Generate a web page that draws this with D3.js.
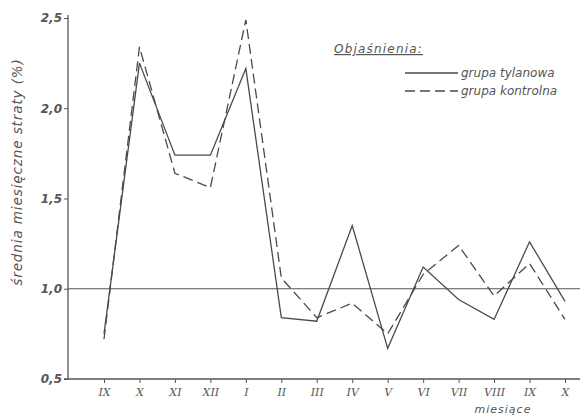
<!DOCTYPE html>
<html>
<head>
<meta charset="utf-8">
<script src="https://cdn.jsdelivr.net/npm/d3@7"></script>
<style>
  body { margin: 0; background: #fff; }
  svg text { font-family: "DejaVu Sans", sans-serif; font-style: italic; fill: #555; }
</style>
</head>
<body>
<svg id="chart" width="580" height="419"></svg>
<script>
// months (Roman numerals, as on the original sheet)
const months = ["IX", "X", "XI", "XII", "I", "II", "III", "IV", "V", "VI", "VII", "VIII", "IX ", "X "];
const monthLabels = ["IX", "X", "XI", "XII", "I", "II", "III", "IV", "V", "VI", "VII", "VIII", "IX", "X"];

// average monthly losses (%)
const tylanowa = [0.75, 2.25, 1.74, 1.74, 2.22, 0.84, 0.82, 1.35, 0.67, 1.12, 0.94, 0.83, 1.26, 0.93];
const kontrolna = [0.72, 2.34, 1.64, 1.56, 2.49, 1.06, 0.84, 0.92, 0.75, 1.08, 1.24, 0.96, 1.14, 0.83];

const yTicks = [0.5, 1.0, 1.5, 2.0, 2.5];

const svg = d3.select("#chart");

const x = d3.scalePoint()
    .domain(months)
    .range([104, 565]);

const y = d3.scaleLinear()
    .domain([0.5, 2.5])
    .range([379, 18]);

const ink = "#555";

//y axis
const yAxis = svg.append("g")
    .attr("transform", "translate(68,0)")
    .call(d3.axisLeft(y).tickValues(yTicks).tickSize(4).tickFormat((d) => d3.format(".1f")(d).replace(".", ",")));
yAxis.select(".domain").attr("stroke", ink).attr("stroke-width", 1.3).attr("d", "M0,15V379");
yAxis.selectAll(".tick line").attr("stroke", ink);
yAxis.selectAll(".tick text")
    .attr("x", -6)
    .style("font-size", "12px")
    .style("font-weight", "bold")
    .style("font-family", "DejaVu Sans")
    .style("font-style", "italic")
    .attr("fill", "#666");

//x axis
const xAxis = svg.append("g")
    .attr("transform", "translate(0,379)")
    .call(d3.axisBottom(x).tickSize(4).tickFormat((d, i) => monthLabels[i]));
xAxis.select(".domain").attr("stroke", ink).attr("stroke-width", 1.3).attr("d", "M64,0H580");
xAxis.selectAll(".tick line").attr("stroke", ink);
xAxis.selectAll(".tick text")
    .attr("y", 9)
    .style("font-size", "11px")
    .style("font-family", "DejaVu Serif")
    .style("font-style", "italic")
    .attr("fill", "#666");

//reference line at 1.0
svg.append("line")
    .attr("x1", 68).attr("x2", 580)
    .attr("y1", y(1.0)).attr("y2", y(1.0))
    .attr("stroke", ink)
    .attr("stroke-width", 1.2);

const line = d3.line()
    .x((d, i) => x(months[i]))
    .y((d) => y(d));

svg.append("path")
    .datum(tylanowa)
    .attr("d", line)
    .attr("fill", "none")
    .attr("stroke", "#4a4a4a")
    .attr("stroke-width", 1.3);

svg.append("path")
    .datum(kontrolna)
    .attr("d", line)
    .attr("fill", "none")
    .attr("stroke", "#4a4a4a")
    .attr("stroke-width", 1.3)
    .attr("stroke-dasharray", "10,5");

//axis titles
svg.append("text")
    .attr("transform", "translate(22,172) rotate(-90)")
    .attr("text-anchor", "middle")
    .style("font-size", "13.5px")
    .style("letter-spacing", "0.9px")
    .text("średnia miesięczne straty (%)");

svg.append("text")
    .attr("x", 503)
    .attr("y", 413)
    .attr("text-anchor", "middle")
    .style("font-size", "11px")
    .style("letter-spacing", "1px")
    .attr("fill", "#888")
    .text("miesiące");

//legend
svg.append("text")
    .attr("x", 334)
    .attr("y", 53)
    .style("font-size", "12px")
    .style("letter-spacing", "1.2px")
    .style("text-decoration", "underline")
    .text("Objaśnienia:");

const legendItems = [
    { name: "grupa tylanowa", dash: null, y: 73 },
    { name: "grupa kontrolna", dash: "10,5", y: 91 }
];

const legend = svg.selectAll(".legend-item")
    .data(legendItems)
    .enter()
    .append("g")
    .attr("class", "legend-item");

legend.append("line")
    .attr("x1", 405).attr("x2", 458)
    .attr("y1", (d) => d.y).attr("y2", (d) => d.y)
    .attr("stroke", "#4a4a4a")
    .attr("stroke-width", 1.3)
    .attr("stroke-dasharray", (d) => d.dash);

legend.append("text")
    .attr("x", 461)
    .attr("y", (d) => d.y + 4)
    .style("font-size", "12px")
    .text((d) => d.name);
</script>
</body>
</html>
